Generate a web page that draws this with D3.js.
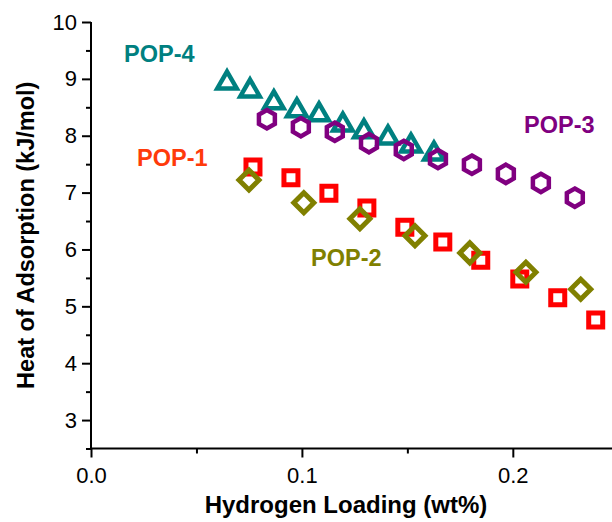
<!DOCTYPE html>
<html lang="en">
<head>
<meta charset="UTF-8">
<title>Heat of Adsorption vs Hydrogen Loading</title>
<style>
  body { margin: 0; background: #fff; }
  svg { display: block; }
</style>
</head>
<body>
<div id="my_dataviz"></div>
<script src="https://d3js.org/d3.v7.min.js"></script>
<script>
// data (x = wt%, y = kJ/mol)
var pop1X = [0.0768, 0.0948, 0.1128, 0.1308, 0.1488, 0.1668, 0.1848, 0.2033, 0.2213, 0.2393];
var pop1Y = [7.45, 7.26, 6.99, 6.73, 6.39, 6.13, 5.81, 5.48, 5.15, 4.76];
var pop2X = [0.0749, 0.1009, 0.1275, 0.1536, 0.1796, 0.2062, 0.2322];
var pop2Y = [7.22, 6.82, 6.54, 6.24, 5.94, 5.60, 5.30];
var pop3X = [0.0834, 0.0995, 0.1156, 0.1318, 0.1483, 0.1645, 0.1806, 0.1967, 0.2133, 0.2294];
var pop3Y = [8.29, 8.15, 8.07, 7.87, 7.75, 7.59, 7.49, 7.33, 7.17, 6.91];
var pop4X = [0.0645, 0.0754, 0.0867, 0.0976, 0.1081, 0.1194, 0.1294, 0.1408, 0.1517, 0.1626];
var pop4Y = [8.98, 8.84, 8.63, 8.49, 8.42, 8.24, 8.12, 8.01, 7.87, 7.73];

var yTicks = [3, 4, 5, 6, 7, 8, 9, 10];
var yMinor = [2.5, 3.5, 4.5, 5.5, 6.5, 7.5, 8.5, 9.5];
var xTicks = [0.0, 0.1, 0.2];
var xMinor = [0.05, 0.15];

var width = 612, height = 522;
var svg = d3.select("#my_dataviz")
  .append("svg")
    .attr("width", width)
    .attr("height", height);

var x = d3.scaleLinear().domain([0, 0.2475]).range([91, 613]);
var y = d3.scaleLinear().domain([2.5, 10]).range([448.5, 22]);

var tickFont = "'Liberation Sans Narrow', 'Arial Narrow', 'Liberation Sans', Arial, sans-serif";
var boldFont = "'Liberation Sans', Arial, sans-serif";

// y axis
var yAxis = svg.append("g")
  .attr("transform", "translate(" + x(0) + ",0)")
  .call(d3.axisLeft(y).tickValues(yTicks).tickSize(9).tickPadding(5).tickFormat(d3.format("d")));
svg.append("g")
  .attr("transform", "translate(" + x(0) + ",0)")
  .call(d3.axisLeft(y).tickValues(yMinor).tickSize(5).tickFormat(""))
  .select(".domain").remove();

// x axis
var xAxis = svg.append("g")
  .attr("transform", "translate(0," + y(2.5) + ")")
  .call(d3.axisBottom(x).tickValues(xTicks).tickSize(9).tickPadding(10).tickFormat(d3.format(".1f")));
svg.append("g")
  .attr("transform", "translate(0," + y(2.5) + ")")
  .call(d3.axisBottom(x).tickValues(xMinor).tickSize(5).tickFormat(""))
  .select(".domain").remove();

yAxis.select(".domain").remove();
xAxis.select(".domain").remove();
// axis lines drawn plain (no end caps)
svg.append("line")
  .attr("x1", x(0)).attr("x2", x(0))
  .attr("y1", y(10)).attr("y2", y(2.5))
  .attr("stroke", "#000").attr("stroke-width", 2);
svg.append("line")
  .attr("x1", x(0) - 1).attr("x2", width)
  .attr("y1", y(2.5)).attr("y2", y(2.5))
  .attr("stroke", "#000").attr("stroke-width", 2);

svg.selectAll(".tick line").attr("stroke", "#000").attr("stroke-width", 2);
svg.selectAll(".tick text")
  .attr("fill", "#000")
  .style("font-family", tickFont)
  .style("font-size", "22px");

// axis titles
svg.append("text")
  .attr("text-anchor", "middle")
  .attr("transform", "translate(34," + y(6.25) + ") rotate(-90)")
  .style("font-family", boldFont)
  .style("font-weight", "bold")
  .style("font-size", "23.5px")
  .text("Heat of Adsorption (kJ/mol)");
svg.append("text")
  .attr("text-anchor", "middle")
  .attr("x", 346)
  .attr("y", 513)
  .style("font-family", boldFont)
  .style("font-weight", "bold")
  .style("font-size", "24px")
  .text("Hydrogen Loading (wt%)");

// marker shapes, centred on the bounding box
function squarePath(s) {
  var h = s / 2;
  return "M" + (-h) + "," + (-h) + "H" + h + "V" + h + "H" + (-h) + "Z";
}
function diamondPath(r) {
  return "M0," + (-r) + "L" + r + ",0L0," + r + "L" + (-r) + ",0Z";
}
function trianglePath(s) {
  var h = s * Math.sqrt(3) / 2;
  return "M0," + (-h / 2) + "L" + (s / 2) + "," + (h / 2) + "L" + (-s / 2) + "," + (h / 2) + "Z";
}
function hexPath(r) {
  var pts = d3.range(6).map(function(i) {
    var a = (-90 + 60 * i) * Math.PI / 180;
    return [r * Math.cos(a), r * Math.sin(a)];
  });
  return "M" + pts.map(function(p) { return p[0].toFixed(2) + "," + p[1].toFixed(2); }).join("L") + "Z";
}

function addSeries(xs, ys, path, color, sw) {
  svg.append("g")
    .selectAll("path")
    .data(d3.zip(xs, ys))
    .enter()
    .append("path")
      .attr("transform", function(d) { return "translate(" + x(d[0]) + "," + y(d[1]) + ")"; })
      .attr("d", path)
      .attr("fill", "none")
      .attr("stroke", color)
      .attr("stroke-width", sw)
      .attr("stroke-linejoin", "miter");
}

addSeries(pop1X, pop1Y, squarePath(14), "#ff0000", 5);
addSeries(pop2X, pop2Y, diamondPath(10), "#808000", 5);
addSeries(pop4X, pop4Y, trianglePath(19.5), "#008080", 4.5);
addSeries(pop3X, pop3Y, hexPath(9.2), "#800080", 4.5);

// series labels
var labels = [
  { t: "POP-4", x: 124, y: 62, c: "#008080" },
  { t: "POP-1", x: 137, y: 166, c: "#ff3a0a" },
  { t: "POP-3", x: 524, y: 133, c: "#800080" },
  { t: "POP-2", x: 311, y: 266, c: "#808000" }
];
svg.selectAll(".serieslabel")
  .data(labels)
  .enter()
  .append("text")
    .attr("class", "serieslabel")
    .attr("x", function(d) { return d.x; })
    .attr("y", function(d) { return d.y; })
    .attr("fill", function(d) { return d.c; })
    .style("font-family", boldFont)
    .style("font-weight", "bold")
    .style("font-size", "23.5px")
    .text(function(d) { return d.t; });
</script>
</body>
</html>
